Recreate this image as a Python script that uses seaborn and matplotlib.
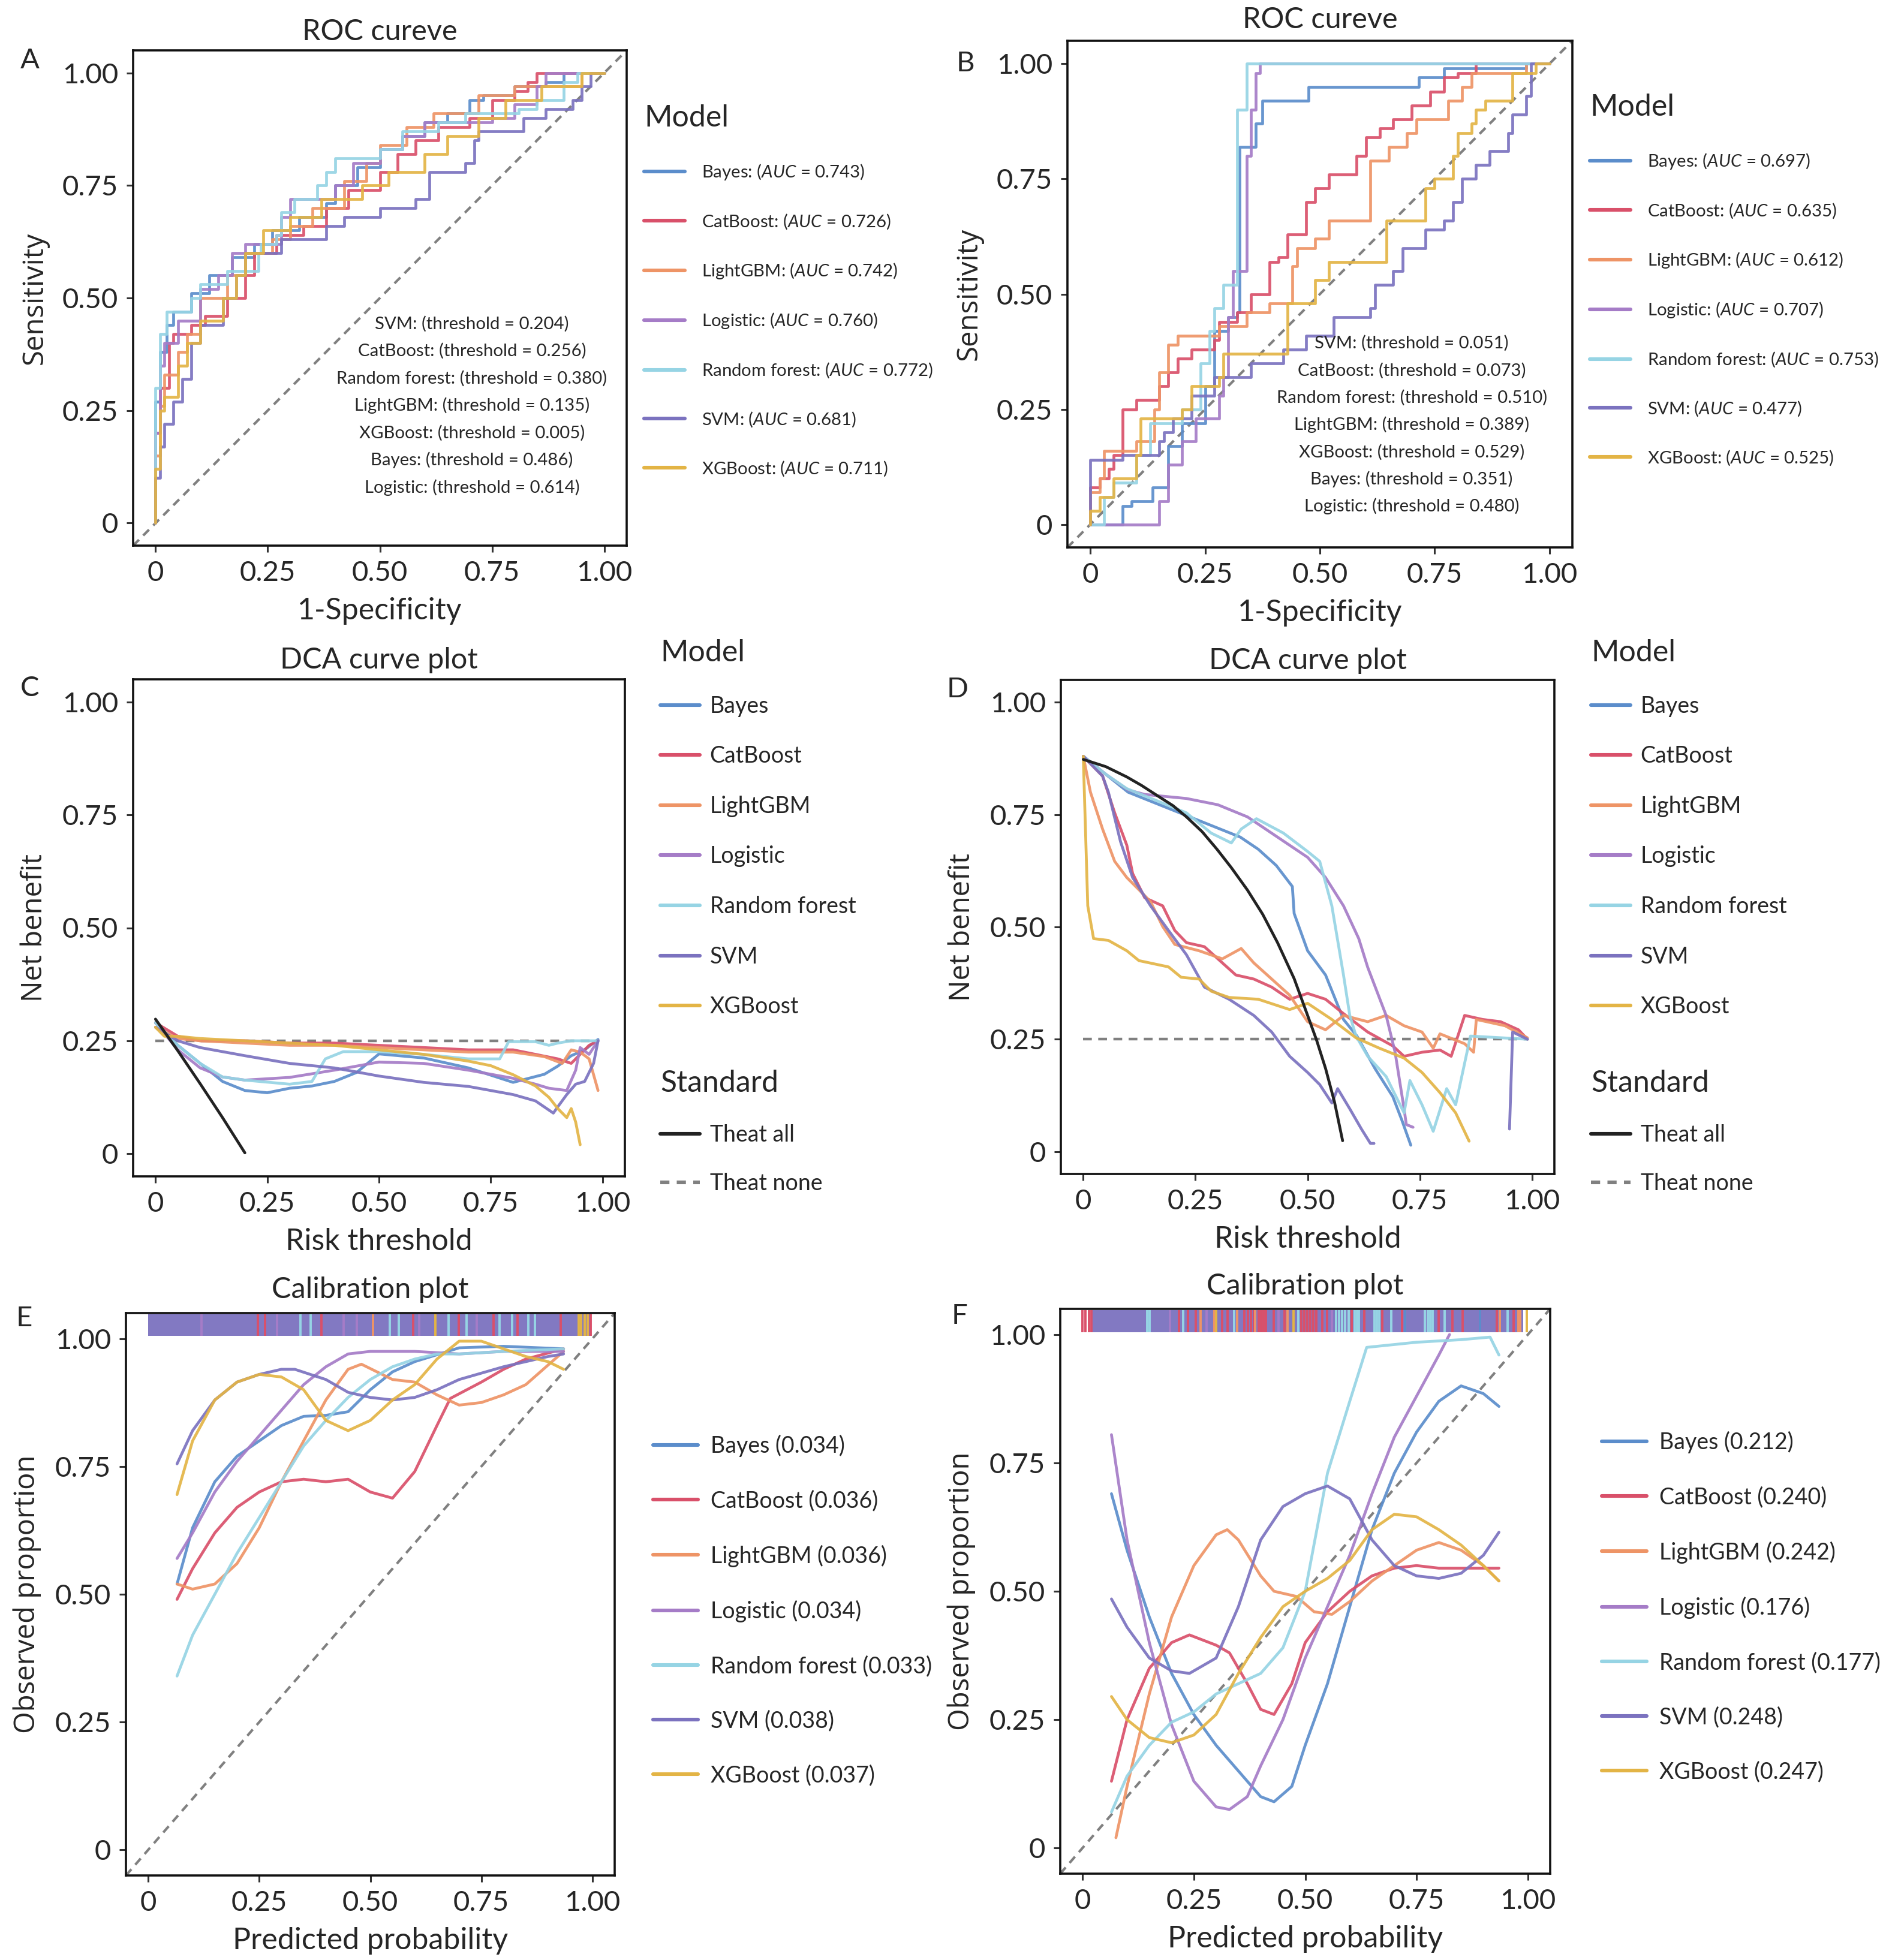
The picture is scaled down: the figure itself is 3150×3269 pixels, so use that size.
import matplotlib
matplotlib.use("Agg")
import pandas as pd
import seaborn as sns
import matplotlib.pyplot as plt
from matplotlib.lines import Line2D

MODELS = ["Bayes", "CatBoost", "LightGBM", "Logistic", "Random forest", "SVM", "XGBoost"]
COLORS = ["#5B8DCB", "#D9506A", "#EE9466", "#A57CC7", "#96D4E4", "#7B72BF", "#E3B445"]
PAL = dict(zip(MODELS, COLORS))

# ---- ROC, panel A (fpr, tpr after each step) ----
A_BAYES = [(0, 0), (0, 0.27), (0.01, 0.38), (0.025, 0.44), (0.04, 0.47), (0.08, 0.51), (0.12, 0.55), (0.17, 0.59),
           (0.22, 0.62), (0.26, 0.65), (0.32, 0.68), (0.38, 0.71), (0.40, 0.75), (0.45, 0.79), (0.50, 0.83),
           (0.55, 0.86), (0.60, 0.89), (0.65, 0.91), (0.70, 0.94), (0.73, 0.95), (0.80, 0.97), (0.87, 0.98),
           (0.91, 1.0), (1, 1)]
A_CATBOOST = [(0, 0), (0, 0.2), (0.01, 0.3), (0.03, 0.4), (0.04, 0.42), (0.08, 0.44), (0.11, 0.46), (0.16, 0.5),
              (0.2, 0.55), (0.22, 0.6), (0.27, 0.64), (0.33, 0.66), (0.38, 0.7), (0.43, 0.74), (0.5, 0.78),
              (0.54, 0.82), (0.58, 0.85), (0.63, 0.88), (0.7, 0.9), (0.75, 0.94), (0.8, 0.96), (0.83, 0.98),
              (0.85, 1.0), (1, 1)]
A_LIGHTGBM = [(0, 0), (0, 0.15), (0.01, 0.26), (0.02, 0.33), (0.05, 0.38), (0.07, 0.42), (0.1, 0.5), (0.16, 0.55),
              (0.2, 0.6), (0.26, 0.63), (0.3, 0.66), (0.35, 0.7), (0.42, 0.76), (0.47, 0.8), (0.5, 0.84),
              (0.56, 0.88), (0.62, 0.91), (0.72, 0.95), (0.8, 0.97), (0.95, 1.0), (1, 1)]
A_LOGISTIC = [(0, 0), (0, 0.2), (0.01, 0.35), (0.02, 0.4), (0.05, 0.45), (0.1, 0.52), (0.14, 0.55), (0.17, 0.6),
              (0.2, 0.62), (0.28, 0.68), (0.3, 0.72), (0.4, 0.75), (0.44, 0.8), (0.5, 0.83), (0.55, 0.86),
              (0.6, 0.89), (0.75, 0.9), (0.8, 0.93), (0.85, 0.97), (0.87, 1.0), (1, 1)]
A_RF = [(0, 0), (0, 0.3), (0.01, 0.42), (0.025, 0.47), (0.08, 0.5), (0.1, 0.53), (0.16, 0.56), (0.23, 0.6),
        (0.235, 0.62), (0.27, 0.64), (0.28, 0.69), (0.31, 0.72), (0.36, 0.75), (0.38, 0.78), (0.4, 0.81),
        (0.5, 0.83), (0.55, 0.87), (0.63, 0.89), (0.69, 0.91), (0.81, 0.92), (0.85, 0.94), (0.91, 0.98),
        (0.94, 1.0), (1, 1)]
A_SVM = [(0, 0), (0, 0.1), (0.01, 0.17), (0.02, 0.22), (0.04, 0.27), (0.06, 0.32), (0.08, 0.4), (0.1, 0.44),
         (0.15, 0.5), (0.18, 0.55), (0.2, 0.6), (0.28, 0.63), (0.38, 0.66), (0.42, 0.68), (0.5, 0.7), (0.58, 0.72),
         (0.61, 0.78), (0.69, 0.8), (0.71, 0.85), (0.72, 0.87), (0.82, 0.9), (0.87, 0.92), (0.93, 0.94),
         (0.95, 0.97), (0.97, 1.0), (1, 1)]
A_XGB = [(0, 0), (0, 0.12), (0.01, 0.25), (0.02, 0.28), (0.05, 0.35), (0.07, 0.4), (0.1, 0.45), (0.15, 0.5),
         (0.18, 0.55), (0.2, 0.6), (0.24, 0.65), (0.3, 0.68), (0.37, 0.72), (0.46, 0.75), (0.52, 0.78),
         (0.6, 0.82), (0.65, 0.86), (0.72, 0.9), (0.78, 0.94), (0.86, 0.97), (0.95, 1.0), (1, 1)]

# ---- ROC, panel B ----
B_BAYES = [(0, 0), (0.07, 0.04), (0.09, 0.05), (0.135, 0.08), (0.17, 0.17), (0.2, 0.22), (0.25, 0.3), (0.27, 0.42),
           (0.3, 0.45), (0.32, 0.46), (0.325, 0.82), (0.36, 0.87), (0.375, 0.92), (0.475, 0.95), (0.715, 0.97),
           (0.77, 0.99), (0.95, 1.0), (1, 1)]
B_CATBOOST = [(0, 0), (0, 0.08), (0.02, 0.1), (0.04, 0.12), (0.05, 0.15), (0.07, 0.25), (0.1, 0.27), (0.15, 0.3),
              (0.17, 0.33), (0.19, 0.36), (0.22, 0.38), (0.27, 0.4), (0.28, 0.44), (0.32, 0.46), (0.35, 0.5),
              (0.39, 0.57), (0.41, 0.58), (0.43, 0.63), (0.47, 0.7), (0.49, 0.73), (0.52, 0.76), (0.58, 0.8),
              (0.6, 0.84), (0.63, 0.86), (0.66, 0.88), (0.7, 0.91), (0.74, 0.94), (0.77, 0.97), (0.8, 0.98),
              (0.84, 1.0), (1, 1)]
B_LIGHTGBM = [(0, 0), (0, 0.07), (0.02, 0.1), (0.03, 0.16), (0.1, 0.18), (0.14, 0.25), (0.15, 0.33), (0.17, 0.39),
              (0.19, 0.41), (0.28, 0.43), (0.34, 0.46), (0.39, 0.48), (0.44, 0.56), (0.45, 0.6), (0.49, 0.62),
              (0.52, 0.66), (0.61, 0.79), (0.65, 0.82), (0.69, 0.85), (0.71, 0.88), (0.78, 0.92), (0.81, 0.95),
              (0.83, 0.98), (0.95, 1.0), (1, 1)]
B_LOGISTIC = [(0, 0), (0.15, 0.05), (0.17, 0.13), (0.2, 0.18), (0.23, 0.23), (0.28, 0.28), (0.29, 0.32),
              (0.3, 0.45), (0.31, 0.55), (0.34, 0.8), (0.35, 0.9), (0.36, 0.98), (0.37, 1.0), (1, 1)]
B_RF = [(0, 0), (0.03, 0.06), (0.05, 0.09), (0.1, 0.15), (0.13, 0.22), (0.2, 0.25), (0.24, 0.35), (0.26, 0.42),
        (0.27, 0.47), (0.29, 0.52), (0.32, 0.9), (0.34, 1.0), (1, 1)]
B_SVM = [(0, 0), (0, 0.14), (0.07, 0.15), (0.15, 0.18), (0.16, 0.2), (0.18, 0.23), (0.22, 0.28), (0.27, 0.32),
         (0.35, 0.35), (0.42, 0.38), (0.47, 0.41), (0.53, 0.45), (0.61, 0.47), (0.62, 0.52), (0.66, 0.55),
         (0.68, 0.6), (0.73, 0.64), (0.77, 0.66), (0.79, 0.7), (0.81, 0.75), (0.84, 0.78), (0.87, 0.81),
         (0.91, 0.85), (0.92, 0.89), (0.95, 0.93), (0.96, 1.0), (1, 1)]
B_XGB = [(0, 0), (0, 0.03), (0.02, 0.06), (0.05, 0.1), (0.1, 0.15), (0.11, 0.23), (0.2, 0.25), (0.22, 0.3),
         (0.28, 0.32), (0.29, 0.37), (0.43, 0.48), (0.49, 0.53), (0.52, 0.57), (0.645, 0.66), (0.73, 0.73),
         (0.75, 0.75), (0.79, 0.8), (0.8, 0.85), (0.83, 0.87), (0.84, 0.9), (0.86, 0.92), (0.92, 0.98),
         (0.97, 1.0), (1, 1)]

AUC_A = ["0.743", "0.726", "0.742", "0.760", "0.772", "0.681", "0.711"]
AUC_B = ["0.697", "0.635", "0.612", "0.707", "0.753", "0.477", "0.525"]
THR_MODELS = ["SVM", "CatBoost", "Random forest", "LightGBM", "XGBoost", "Bayes", "Logistic"]
THR_A = ["0.204", "0.256", "0.380", "0.135", "0.005", "0.486", "0.614"]
THR_B = ["0.051", "0.073", "0.510", "0.389", "0.529", "0.351", "0.480"]

# ---- DCA, panel C ----
C_BAYES = [(0, 0.29), (0.05, 0.24), (0.1, 0.2), (0.15, 0.16), (0.2, 0.14), (0.25, 0.135), (0.3, 0.145),
           (0.35, 0.15), (0.4, 0.16), (0.45, 0.18), (0.5, 0.221), (0.6, 0.212), (0.7, 0.19), (0.8, 0.158),
           (0.87, 0.176), (0.9, 0.194), (0.93, 0.217), (0.96, 0.23), (0.99, 0.253)]
C_CATBOOST = [(0, 0.29), (0.05, 0.26), (0.1, 0.25), (0.2, 0.25), (0.3, 0.245), (0.4, 0.245), (0.5, 0.24),
              (0.6, 0.235), (0.7, 0.23), (0.8, 0.23), (0.85, 0.22), (0.9, 0.21), (0.93, 0.2), (0.95, 0.22),
              (0.97, 0.24), (0.99, 0.25)]
C_LIGHTGBM = [(0, 0.28), (0.05, 0.255), (0.1, 0.25), (0.2, 0.245), (0.3, 0.24), (0.4, 0.24), (0.5, 0.235),
              (0.6, 0.23), (0.7, 0.225), (0.8, 0.225), (0.87, 0.215), (0.91, 0.2), (0.93, 0.23), (0.95, 0.225),
              (0.97, 0.21), (0.99, 0.14)]
C_LOGISTIC = [(0, 0.29), (0.05, 0.23), (0.1, 0.19), (0.15, 0.17), (0.2, 0.163), (0.3, 0.169), (0.4, 0.185),
              (0.5, 0.203), (0.6, 0.2), (0.7, 0.185), (0.8, 0.167), (0.85, 0.154), (0.88, 0.145), (0.92, 0.14),
              (0.94, 0.185), (0.95, 0.235), (0.97, 0.22), (0.99, 0.25)]
C_RF = [(0, 0.29), (0.05, 0.24), (0.1, 0.2), (0.15, 0.17), (0.2, 0.163), (0.3, 0.154), (0.35, 0.16), (0.38, 0.21),
        (0.42, 0.226), (0.5, 0.226), (0.6, 0.22), (0.7, 0.21), (0.77, 0.21), (0.79, 0.248), (0.85, 0.248),
        (0.88, 0.24), (0.9, 0.245), (0.93, 0.25), (0.99, 0.25)]
C_SVM = [(0, 0.28), (0.05, 0.25), (0.1, 0.235), (0.2, 0.217), (0.3, 0.2), (0.4, 0.19), (0.5, 0.172), (0.6, 0.158),
         (0.7, 0.149), (0.8, 0.131), (0.85, 0.117), (0.89, 0.09), (0.9, 0.104), (0.92, 0.131), (0.94, 0.154),
         (0.96, 0.16), (0.98, 0.2), (0.99, 0.25)]
C_XGB = [(0, 0.28), (0.02, 0.26), (0.05, 0.26), (0.1, 0.255), (0.2, 0.25), (0.3, 0.245), (0.4, 0.24), (0.5, 0.23),
         (0.6, 0.22), (0.7, 0.205), (0.75, 0.195), (0.8, 0.175), (0.85, 0.15), (0.88, 0.125), (0.9, 0.1),
         (0.92, 0.08), (0.93, 0.1), (0.94, 0.07), (0.95, 0.02)]
C_ALL = [(0, 0.298), (0.05, 0.228), (0.1, 0.155), (0.15, 0.08), (0.2, 0.002)]
C_NONE = [(0, 0.25), (0.99, 0.25)]

# ---- DCA, panel D ----
D_BAYES = [(0, 0.88), (0.05, 0.84), (0.1, 0.8), (0.15, 0.78), (0.2, 0.76), (0.25, 0.74), (0.3, 0.72), (0.35, 0.7),
           (0.39, 0.673), (0.43, 0.637), (0.466, 0.59), (0.47, 0.53), (0.5, 0.447), (0.54, 0.393), (0.58, 0.294),
           (0.61, 0.257), (0.65, 0.185), (0.69, 0.122), (0.71, 0.07), (0.73, 0.014)]
D_CATBOOST = [(0, 0.88), (0.043, 0.836), (0.07, 0.754), (0.097, 0.682), (0.11, 0.619), (0.137, 0.565),
              (0.177, 0.547), (0.204, 0.492), (0.23, 0.465), (0.27, 0.456), (0.31, 0.42), (0.34, 0.393),
              (0.38, 0.384), (0.42, 0.366), (0.46, 0.339), (0.5, 0.352), (0.54, 0.339), (0.58, 0.307),
              (0.634, 0.266), (0.69, 0.235), (0.715, 0.212), (0.755, 0.221), (0.795, 0.226), (0.82, 0.212),
              (0.85, 0.303), (0.89, 0.294), (0.93, 0.289), (0.97, 0.271), (0.99, 0.25)]
D_LIGHTGBM = [(0, 0.88), (0.016, 0.8), (0.043, 0.718), (0.07, 0.646), (0.097, 0.61), (0.124, 0.583), (0.15, 0.556),
              (0.177, 0.501), (0.204, 0.461), (0.258, 0.447), (0.31, 0.429), (0.352, 0.452), (0.38, 0.42),
              (0.42, 0.384), (0.46, 0.348), (0.5, 0.289), (0.54, 0.271), (0.58, 0.303), (0.634, 0.289),
              (0.675, 0.303), (0.715, 0.28), (0.755, 0.266), (0.78, 0.23), (0.795, 0.262), (0.85, 0.24),
              (0.87, 0.221), (0.876, 0.294), (0.94, 0.28), (0.99, 0.253)]
D_LOGISTIC = [(0, 0.88), (0.05, 0.84), (0.1, 0.805), (0.137, 0.795), (0.23, 0.786), (0.3, 0.772), (0.366, 0.745),
              (0.433, 0.7), (0.5, 0.655), (0.54, 0.61), (0.58, 0.547), (0.614, 0.474), (0.634, 0.41),
              (0.675, 0.303), (0.695, 0.221), (0.715, 0.095), (0.72, 0.06), (0.735, 0.054)]
D_RF = [(0, 0.88), (0.05, 0.84), (0.097, 0.808), (0.164, 0.781), (0.23, 0.754), (0.285, 0.709), (0.33, 0.687),
        (0.352, 0.718), (0.386, 0.741), (0.446, 0.709), (0.5, 0.668), (0.527, 0.646), (0.554, 0.547),
        (0.58, 0.393), (0.594, 0.303), (0.608, 0.257), (0.634, 0.212), (0.675, 0.167), (0.715, 0.086),
        (0.728, 0.158), (0.755, 0.104), (0.78, 0.045), (0.81, 0.14), (0.83, 0.104), (0.863, 0.257), (0.99, 0.25)]
D_SVM = [(0, 0.88), (0.043, 0.836), (0.056, 0.8), (0.083, 0.69), (0.11, 0.61), (0.15, 0.547), (0.19, 0.492),
         (0.23, 0.438), (0.27, 0.366), (0.325, 0.339), (0.38, 0.303), (0.42, 0.266), (0.46, 0.212), (0.5, 0.176),
         (0.527, 0.149), (0.554, 0.108), (0.567, 0.14), (0.594, 0.095), (0.62, 0.05), (0.64, 0.018),
         (0.648, 0.018)]
D_SVM_TAIL = [(0.95, 0.05), (0.957, 0.266), (0.99, 0.25)]
D_XGB = [(0, 0.88), (0.01, 0.547), (0.023, 0.474), (0.056, 0.47), (0.097, 0.447), (0.124, 0.425), (0.19, 0.411),
         (0.218, 0.388), (0.258, 0.384), (0.285, 0.357), (0.325, 0.343), (0.39, 0.339), (0.46, 0.316),
         (0.5, 0.33), (0.554, 0.294), (0.608, 0.253), (0.66, 0.23), (0.715, 0.208), (0.755, 0.176),
         (0.795, 0.131), (0.83, 0.086), (0.86, 0.023)]
D_ALL = [(0, 0.873), (0.05, 0.857), (0.097, 0.834), (0.13, 0.815), (0.164, 0.793), (0.2, 0.77), (0.23, 0.745),
         (0.265, 0.712), (0.298, 0.673), (0.33, 0.632), (0.366, 0.582), (0.4, 0.528), (0.433, 0.465),
         (0.47, 0.385), (0.5, 0.303), (0.52, 0.248), (0.54, 0.185), (0.56, 0.11), (0.578, 0.024)]
D_NONE = [(0, 0.25), (0.99, 0.25)]

# ---- Calibration, panel E ----
E_BAYES = [(0.065, 0.52), (0.1, 0.63), (0.15, 0.72), (0.2, 0.77), (0.25, 0.8), (0.3, 0.83), (0.35, 0.848),
           (0.4, 0.85), (0.45, 0.857), (0.5, 0.9), (0.55, 0.935), (0.6, 0.955), (0.7, 0.982), (0.8, 0.985),
           (0.935, 0.98)]
E_CATBOOST = [(0.065, 0.49), (0.1, 0.55), (0.15, 0.62), (0.2, 0.67), (0.25, 0.7), (0.3, 0.72), (0.35, 0.725),
              (0.4, 0.72), (0.45, 0.725), (0.5, 0.7), (0.55, 0.688), (0.6, 0.74), (0.65, 0.83), (0.68, 0.883),
              (0.75, 0.915), (0.8, 0.94), (0.85, 0.96), (0.935, 0.98)]
E_LIGHTGBM = [(0.065, 0.52), (0.1, 0.51), (0.15, 0.52), (0.2, 0.56), (0.25, 0.63), (0.3, 0.72), (0.35, 0.8),
              (0.4, 0.88), (0.45, 0.94), (0.48, 0.95), (0.55, 0.92), (0.6, 0.915), (0.65, 0.89), (0.7, 0.87),
              (0.75, 0.875), (0.8, 0.89), (0.85, 0.91), (0.935, 0.975)]
E_LOGISTIC = [(0.065, 0.57), (0.1, 0.62), (0.15, 0.7), (0.2, 0.76), (0.25, 0.81), (0.3, 0.86), (0.35, 0.91),
              (0.4, 0.945), (0.45, 0.97), (0.5, 0.975), (0.6, 0.975), (0.7, 0.97), (0.8, 0.975), (0.935, 0.975)]
E_RF = [(0.065, 0.34), (0.1, 0.42), (0.15, 0.5), (0.2, 0.58), (0.25, 0.65), (0.3, 0.72), (0.35, 0.79),
        (0.4, 0.84), (0.45, 0.885), (0.5, 0.92), (0.55, 0.945), (0.6, 0.96), (0.65, 0.97), (0.7, 0.97),
        (0.8, 0.975), (0.935, 0.98)]
E_SVM = [(0.065, 0.755), (0.1, 0.82), (0.15, 0.88), (0.2, 0.915), (0.25, 0.93), (0.3, 0.94), (0.33, 0.94),
         (0.4, 0.92), (0.45, 0.895), (0.5, 0.885), (0.55, 0.88), (0.6, 0.885), (0.65, 0.9), (0.7, 0.92),
         (0.8, 0.945), (0.9, 0.965), (0.935, 0.97)]
E_XGB = [(0.065, 0.695), (0.1, 0.8), (0.15, 0.88), (0.2, 0.915), (0.25, 0.93), (0.3, 0.925), (0.35, 0.9),
         (0.4, 0.84), (0.45, 0.82), (0.5, 0.84), (0.55, 0.88), (0.6, 0.91), (0.65, 0.96), (0.7, 0.995),
         (0.75, 0.995), (0.8, 0.98), (0.85, 0.965), (0.9, 0.955), (0.935, 0.94)]
BRIER_E = ["0.034", "0.036", "0.036", "0.034", "0.033", "0.038", "0.037"]

# ---- Calibration, panel F ----
F_BAYES = [(0.065, 0.69), (0.1, 0.58), (0.15, 0.45), (0.2, 0.34), (0.25, 0.26), (0.3, 0.2), (0.35, 0.15),
           (0.4, 0.1), (0.43, 0.09), (0.47, 0.12), (0.5, 0.2), (0.55, 0.32), (0.6, 0.47), (0.65, 0.62),
           (0.7, 0.73), (0.75, 0.81), (0.8, 0.87), (0.85, 0.9), (0.9, 0.885), (0.935, 0.86)]
F_CATBOOST = [(0.065, 0.13), (0.1, 0.25), (0.15, 0.35), (0.2, 0.4), (0.24, 0.415), (0.3, 0.395), (0.33, 0.38),
              (0.37, 0.32), (0.4, 0.27), (0.43, 0.26), (0.47, 0.32), (0.5, 0.4), (0.55, 0.46), (0.6, 0.5),
              (0.65, 0.53), (0.7, 0.545), (0.75, 0.55), (0.8, 0.545), (0.935, 0.545)]
F_LIGHTGBM = [(0.075, 0.02), (0.1, 0.12), (0.15, 0.3), (0.2, 0.45), (0.25, 0.55), (0.3, 0.61), (0.325, 0.62),
              (0.35, 0.6), (0.4, 0.53), (0.43, 0.5), (0.48, 0.49), (0.52, 0.46), (0.56, 0.455), (0.6, 0.48),
              (0.65, 0.52), (0.7, 0.55), (0.75, 0.58), (0.8, 0.595), (0.85, 0.58), (0.9, 0.55), (0.935, 0.52)]
F_LOGISTIC = [(0.065, 0.805), (0.1, 0.6), (0.15, 0.4), (0.2, 0.24), (0.25, 0.13), (0.3, 0.08), (0.33, 0.075),
              (0.37, 0.1), (0.4, 0.16), (0.45, 0.25), (0.5, 0.37), (0.55, 0.47), (0.6, 0.57), (0.65, 0.69),
              (0.7, 0.8), (0.75, 0.88), (0.8, 0.96), (0.824, 1.0)]
F_RF = [(0.065, 0.07), (0.1, 0.14), (0.15, 0.2), (0.2, 0.245), (0.25, 0.265), (0.3, 0.3), (0.35, 0.32),
        (0.4, 0.34), (0.45, 0.39), (0.5, 0.5), (0.55, 0.73), (0.6, 0.87), (0.638, 0.975), (0.75, 0.985),
        (0.85, 0.99), (0.915, 0.995), (0.935, 0.96)]
F_SVM = [(0.065, 0.485), (0.1, 0.43), (0.15, 0.37), (0.2, 0.345), (0.24, 0.34), (0.3, 0.37), (0.35, 0.47),
         (0.4, 0.6), (0.45, 0.665), (0.5, 0.69), (0.55, 0.705), (0.6, 0.68), (0.65, 0.6), (0.7, 0.55),
         (0.75, 0.53), (0.8, 0.525), (0.85, 0.535), (0.9, 0.57), (0.935, 0.615)]
F_XGB = [(0.065, 0.295), (0.1, 0.25), (0.15, 0.215), (0.2, 0.205), (0.25, 0.22), (0.3, 0.26), (0.35, 0.34),
         (0.4, 0.41), (0.45, 0.47), (0.5, 0.5), (0.55, 0.525), (0.6, 0.56), (0.65, 0.62), (0.7, 0.65),
         (0.75, 0.645), (0.8, 0.62), (0.85, 0.59), (0.9, 0.55), (0.935, 0.52)]
BRIER_F = ["0.212", "0.240", "0.242", "0.176", "0.177", "0.248", "0.247"]

# rug of predicted probabilities shown along the top of the calibration plots
E_RUG_SVM_RANGE = (0.0, 0.997)
E_RUG = {
    "Logistic": [0.12, 0.29, 0.44, 0.47, 0.61, 0.74],
    "CatBoost": [0.247, 0.263, 0.39, 0.597, 0.699, 0.778, 0.832, 0.928, 0.996],
    "Random forest": [0.343, 0.366, 0.544, 0.564, 0.676, 0.716, 0.791, 0.819, 0.856, 0.87],
    "LightGBM": [0.506],
    "XGBoost": [0.646, 0.969, 0.975, 0.982, 0.989],
}
F_RUG_SVM_RANGE = (0.02, 0.99)
F_RUG = {
    "Bayes": [0.724, 0.892],
    "Logistic": [0.196, 0.278, 0.44, 0.56],
    "CatBoost": [0.0, 0.007, 0.014, 0.02, 0.217, 0.237, 0.254, 0.313, 0.326, 0.364, 0.371, 0.378, 0.385, 0.395,
                 0.401, 0.407, 0.412, 0.429, 0.453, 0.491, 0.498, 0.505, 0.512, 0.518, 0.525, 0.539, 0.549, 0.604,
                 0.632, 0.673, 0.717, 0.8, 0.83, 0.854, 0.93, 0.968],
    "Random forest": [0.145, 0.151, 0.226, 0.34, 0.484, 0.57, 0.576, 0.583, 0.59, 0.597, 0.611, 0.616, 0.621,
                      0.656, 0.661, 0.666, 0.693, 0.769, 0.775, 0.781, 0.786, 0.813, 0.954],
    "LightGBM": [0.265, 0.296, 0.347, 0.388, 0.46, 0.937, 0.978, 0.983],
    "XGBoost": [0.3, 0.474, 0.998],
}


def to_df(items):
    frames = []
    for model, part, pts in items:
        d = pd.DataFrame(pts, columns=["x", "y"])
        d["model"] = model
        d["part"] = f"{model}-{part}"
        frames.append(d)
    return pd.concat(frames, ignore_index=True)


sns.set_style("ticks")
plt.rcParams["font.family"] = ["Lato", "DejaVu Sans"]
plt.rcParams["mathtext.fontset"] = "custom"
plt.rcParams["mathtext.rm"] = "Lato"
plt.rcParams["mathtext.it"] = "Lato:italic"

W, H = 3150, 3269
fig = plt.figure(figsize=(W / 200, H / 200), dpi=200)


def px_axes(left, top, right, bottom):
    return fig.add_axes([left / W, 1 - bottom / H, (right - left) / W, (bottom - top) / H])


def style_axes(ax, title, xlabel, ylabel, title_pad):
    ticks = [0, 0.25, 0.5, 0.75, 1.0]
    labs = ["0", "0.25", "0.50", "0.75", "1.00"]
    ax.set_xlim(-0.05, 1.05)
    ax.set_ylim(-0.05, 1.05)
    ax.set_xticks(ticks, labs)
    ax.set_yticks(ticks, labs)
    ax.set_title(title, fontsize=17.5, pad=title_pad)
    ax.set_xlabel(xlabel, fontsize=18, labelpad=7)
    ax.set_ylabel(ylabel, fontsize=17, family=["Open Sans", "DejaVu Sans"], labelpad=8)
    for s in ax.spines.values():
        s.set_visible(True)
        s.set_linewidth(1.3)
        s.set_color("#111111")
    ax.tick_params(direction="out", length=4, width=1.1, color="#333333", labelsize=17, pad=5)


def letter(x, y, s):
    fig.text(x / W, 1 - y / H, s, fontsize=17, ha="center", va="center")


def model_legend(ax, labels, x, y, fontsize, spacing, hlen, hpad, title=None):
    handles = [Line2D([], [], color=PAL[m], lw=2.2) for m in MODELS]
    leg = ax.legend(handles, labels, title=title, loc="upper left", bbox_to_anchor=(x / W, 1 - y / H),
                    bbox_transform=fig.transFigure, frameon=False, fontsize=fontsize, title_fontsize=18,
                    labelspacing=spacing, handlelength=hlen, handletextpad=hpad, borderpad=0,
                    borderaxespad=0, alignment="left")
    return leg


def draw_curves(ax, df, **kw):
    sns.lineplot(data=df, x="x", y="y", hue="model", units="part", estimator=None, sort=False,
                 hue_order=MODELS, palette=PAL, lw=1.7, alpha=0.92, legend=False, ax=ax, **kw)


diag = dict(color="#808080", lw=1.5, ls=(0, (3.3, 2.4)), zorder=1)

# ---------- A ----------
axA = px_axes(222, 84, 1045, 910)
roc_a = to_df([(m, 0, p) for m, p in zip(MODELS, [A_BAYES, A_CATBOOST, A_LIGHTGBM, A_LOGISTIC, A_RF, A_SVM, A_XGB])])
axA.axline((0, 0), (1, 1), **diag)
draw_curves(axA, roc_a, drawstyle="steps-post")
style_axes(axA, "ROC cureve", "1-Specificity", "Sensitivity", 6)
for i, (m, t) in enumerate(zip(THR_MODELS, THR_A)):
    axA.text(0.705, 0.443 - 0.0606 * i, f"{m}: (threshold = {t})", ha="center", va="center", fontsize=10.6)
model_legend(axA, [f"{m}: ($\\mathit{{AUC}}$ = {a})" for m, a in zip(MODELS, AUC_A)],
             1074, 174, 10.6, 1.74, 2.3, 0.95, title="Model")
letter(50, 101, "A")

# ---------- B ----------
axB = px_axes(1780, 68, 2622, 913)
roc_b = to_df([(m, 0, p) for m, p in zip(MODELS, [B_BAYES, B_CATBOOST, B_LIGHTGBM, B_LOGISTIC, B_RF, B_SVM, B_XGB])])
axB.axline((0, 0), (1, 1), **diag)
draw_curves(axB, roc_b, drawstyle="steps-post")
style_axes(axB, "ROC cureve", "1-Specificity", "Sensitivity", 7.5)
for i, (m, t) in enumerate(zip(THR_MODELS, THR_B)):
    axB.text(0.70, 0.393 - 0.059 * i, f"{m}: (threshold = {t})", ha="center", va="center", fontsize=10.6)
model_legend(axB, [f"{m}: ($\\mathit{{AUC}}$ = {a})" for m, a in zip(MODELS, AUC_B)],
             2651, 156, 10.6, 1.74, 2.3, 0.95, title="Model")
letter(1610, 106, "B")


# ---------- C / D ----------
def dca_panel(ax, curves, svm_tail, all_pts, none_pts, lx, title_pad):
    items = [(m, 0, p) for m, p in zip(MODELS, curves)]
    if svm_tail is not None:
        items.append(("SVM", 1, svm_tail))
    df = to_df(items)
    std = pd.DataFrame(all_pts, columns=["x", "y"])
    non = pd.DataFrame(none_pts, columns=["x", "y"])
    sns.lineplot(data=non, x="x", y="y", color="#808080", lw=1.6, ls=(0, (3.3, 2.4)), ax=ax, sort=False,
                 estimator=None)
    draw_curves(ax, df)
    sns.lineplot(data=std, x="x", y="y", color="#222222", lw=1.7, ax=ax, sort=False, estimator=None)
    style_axes(ax, "DCA curve plot", "Risk threshold", "Net benefit", title_pad)
    leg = model_legend(ax, MODELS, lx, 1066, 13.5, 1.27, 1.75, 0.45, title="Model")
    ax.add_artist(leg)
    h2 = [Line2D([], [], color="#222222", lw=2.2), Line2D([], [], color="#808080", lw=2.2, ls=(0, (2.5, 2.0)))]
    ax.legend(h2, ["Theat all", "Theat none"], title="Standard", loc="upper left",
              bbox_to_anchor=(lx / W, 1 - 1784 / H), bbox_transform=fig.transFigure, frameon=False,
              fontsize=13.5, title_fontsize=18, labelspacing=1.2, handlelength=1.75, handletextpad=0.45,
              borderpad=0, borderaxespad=0, alignment="left")


axC = px_axes(222, 1133, 1042, 1962)
dca_panel(axC, [C_BAYES, C_CATBOOST, C_LIGHTGBM, C_LOGISTIC, C_RF, C_SVM, C_XGB], None, C_ALL, C_NONE,
          1101, 6.5)
letter(50, 1148, "C")

axD = px_axes(1769, 1134, 2592, 1958)
dca_panel(axD, [D_BAYES, D_CATBOOST, D_LIGHTGBM, D_LOGISTIC, D_RF, D_SVM, D_XGB], D_SVM_TAIL, D_ALL, D_NONE,
          2653, 6.5)
letter(1597, 1150, "D")


# ---------- E / F ----------
def cal_panel(ax, curves, svm_range, rug, briers, lx, ly, title_pad):
    df = to_df([(m, 0, p) for m, p in zip(MODELS, curves)])
    ax.axline((0, 0), (1, 1), **diag)
    ax.fill_between(list(svm_range), 1.005, 1.048, color=PAL["SVM"], lw=0, alpha=0.95)
    for m, xs in rug.items():
        ax.vlines(xs, 1.005, 1.048, color=PAL[m], lw=1.4)
    draw_curves(ax, df)
    style_axes(ax, "Calibration plot", "Predicted probability", "Observed proportion", title_pad)
    model_legend(ax, [f"{m} ({b})" for m, b in zip(MODELS, briers)], lx, ly, 13.5, 1.47, 2.0, 0.55)


axE = px_axes(210, 2190, 1025, 3128)
cal_panel(axE, [E_BAYES, E_CATBOOST, E_LIGHTGBM, E_LOGISTIC, E_RF, E_SVM, E_XGB], E_RUG_SVM_RANGE, E_RUG,
          BRIER_E, 1089, 2393, 9)
letter(40, 2199, "E")

axF = px_axes(1768, 2183, 2585, 3125)
cal_panel(axF, [F_BAYES, F_CATBOOST, F_LIGHTGBM, F_LOGISTIC, F_RF, F_SVM, F_XGB], F_RUG_SVM_RANGE, F_RUG,
          BRIER_F, 2671, 2387, 8.5)
letter(1600, 2195, "F")

fig.savefig("out.png", dpi=200, facecolor="white")
